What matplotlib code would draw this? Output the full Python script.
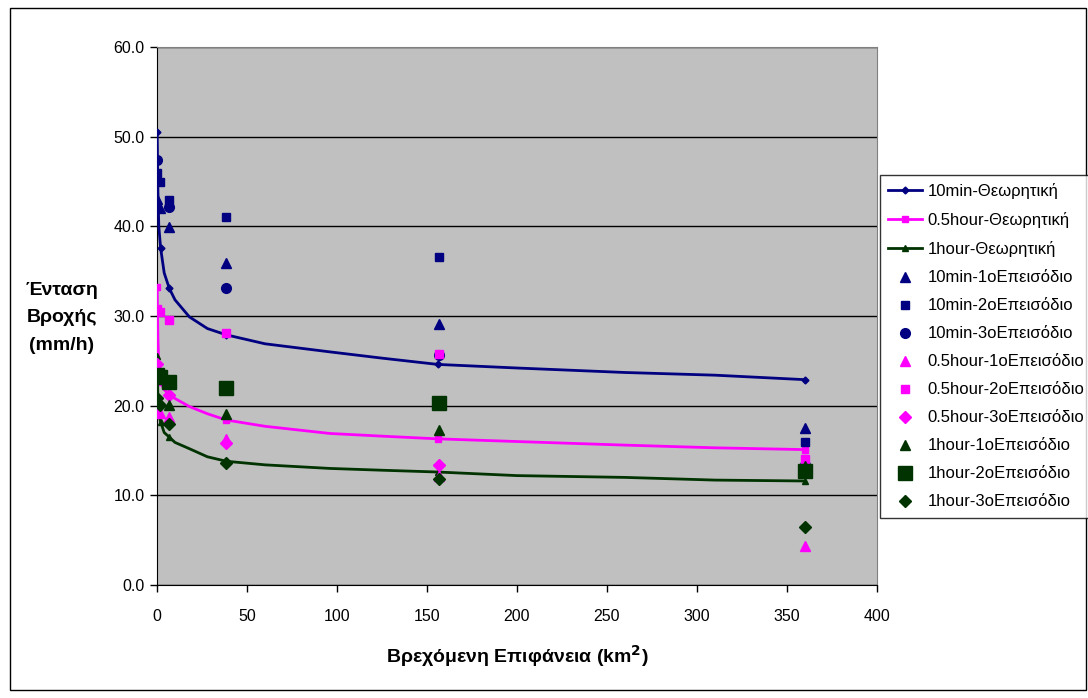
import numpy as np
import matplotlib

matplotlib.use("Agg")
import matplotlib.pyplot as plt
from matplotlib.patches import Rectangle

plt.rcParams["font.family"] = ["Liberation Sans", "DejaVu Sans"]

# Θεωρητικές καμπύλες (x σε km2, y σε mm/h)
curve_x = [0.1, 0.5, 1, 2, 4, 6.8, 10, 18, 28, 38.5, 60, 96, 125, 156, 200, 260, 310, 360]
curve_10min = [50.5, 44.0, 40.0, 37.6, 34.8, 33.1, 31.8, 29.9, 28.6, 27.9, 26.9, 26.0, 25.3,
               24.6, 24.2, 23.7, 23.4, 22.9]
curve_05h = [33.2, 27.5, 24.5, 22.6, 21.8, 21.2, 20.8, 19.9, 19.1, 18.4, 17.7, 16.9, 16.6,
             16.3, 16.0, 15.6, 15.3, 15.1]
curve_1h = [25.5, 20.5, 19.0, 18.2, 17.0, 16.5, 15.9, 15.2, 14.3, 13.8, 13.4, 13.0, 12.8,
            12.6, 12.2, 12.0, 11.7, 11.6]
curve_marks = [0, 3, 5, 9, 13, 17]  # σημεία με δείκτη

# Μετρήσεις επεισοδίων
obs_x = [0.2, 1.5, 6.5, 38.5, 156.5, 360]
nan = np.nan
obs_10min_1 = [43.1, 42.0, 39.9, 35.9, 29.1, 17.5]
obs_10min_2 = [46.0, 45.0, 42.9, 41.0, 36.6, 16.0]
obs_10min_3 = [47.4, nan, 42.2, 33.1, 25.6, 13.4]
obs_05h_1 = [19.6, 19.2, 18.7, 16.3, 12.2, 4.3]
obs_05h_2 = [30.8, 30.5, 29.5, 28.1, 25.8, 14.1]
obs_05h_3 = [24.7, nan, 21.2, 15.8, 13.4, nan]
obs_1h_1 = [20.6, nan, 20.1, 19.1, 17.3, 13.3]
obs_1h_2 = [23.4, 23.2, 22.6, 22.0, 20.3, 12.7]
obs_1h_3 = [20.8, 20.1, 18.0, 13.6, 11.8, 6.5]

NAVY = "#000080"
MAG = "#FF00FF"
GREEN = "#003300"

fig = plt.figure(figsize=(10.88, 6.98), dpi=100)
ax = fig.add_axes([157 / 1088, 1 - 585 / 698, 720 / 1088, 538 / 698])
ax.set_facecolor("#C0C0C0")

ax.plot(curve_x, curve_10min, color=NAVY, lw=2, marker="D", ms=3.5,
        markevery=curve_marks, label="10min-Θεωρητική", zorder=3)
ax.plot(curve_x, curve_05h, color=MAG, lw=2, marker="s", ms=4,
        markevery=curve_marks, label="0.5hour-Θεωρητική", zorder=3)
ax.plot(curve_x, curve_1h, color=GREEN, lw=2, marker="^", ms=4,
        markevery=curve_marks, label="1hour-Θεωρητική", zorder=3)

scatter_series = [
    (obs_10min_1, NAVY, "^", 7, "10min-1οΕπεισόδιο"),
    (obs_10min_2, NAVY, "s", 6, "10min-2οΕπεισόδιο"),
    (obs_10min_3, NAVY, "o", 7, "10min-3οΕπεισόδιο"),
    (obs_05h_1, MAG, "^", 7, "0.5hour-1οΕπεισόδιο"),
    (obs_05h_2, MAG, "s", 6, "0.5hour-2οΕπεισόδιο"),
    (obs_05h_3, MAG, "D", 6, "0.5hour-3οΕπεισόδιο"),
    (obs_1h_1, GREEN, "^", 7, "1hour-1οΕπεισόδιο"),
    (obs_1h_2, GREEN, "s", 10, "1hour-2οΕπεισόδιο"),
    (obs_1h_3, GREEN, "D", 6, "1hour-3οΕπεισόδιο"),
]
for ys, c, m, s, lab in scatter_series:
    ax.plot(obs_x, ys, ls="none", marker=m, ms=s, color=c, mec=c, label=lab, zorder=4)

ax.set_xlim(0, 400)
ax.set_ylim(0, 60)
ax.set_xticks(range(0, 401, 50))
ax.set_yticks(range(0, 61, 10))
ax.set_yticklabels([f"{v:.1f}" for v in range(0, 61, 10)])
ax.tick_params(labelsize=11.5, length=5, direction="out", width=1)
ax.tick_params(axis="x", pad=12)
ax.tick_params(axis="y", pad=4)
ax.grid(axis="y", color="black", lw=1)
ax.set_axisbelow(True)
for side in ("top", "right"):
    ax.spines[side].set_color("#808080")
for side in ("left", "bottom"):
    ax.spines[side].set_color("black")

ax.set_xlabel("Βρεχόμενη Επιφάνεια (km$^\\mathbf{2}$)", fontsize=14, fontweight="bold",
              labelpad=14)
fig.text(62 / 1088, 1 - 318 / 698, "Ένταση\nΒροχής\n(mm/h)", ha="center", va="center",
         fontsize=14, fontweight="bold", linespacing=1.8)

handles, labels = ax.get_legend_handles_labels()
leg = fig.legend(handles, labels, loc="upper left", bbox_to_anchor=(880 / 1088, 1 - 175 / 698),
                 fontsize=12, frameon=True, fancybox=False, edgecolor="black",
                 labelspacing=0.78, handlelength=2.0, handletextpad=0.36, borderpad=0.5,
                 borderaxespad=0)
leg.get_frame().set_linewidth(1)

fig.patches.append(Rectangle((10 / 1088, 8 / 698), 1076 / 1088, 682 / 698,
                             transform=fig.transFigure, fill=False, ec="black", lw=1))

fig.savefig("out.png", dpi=100)
